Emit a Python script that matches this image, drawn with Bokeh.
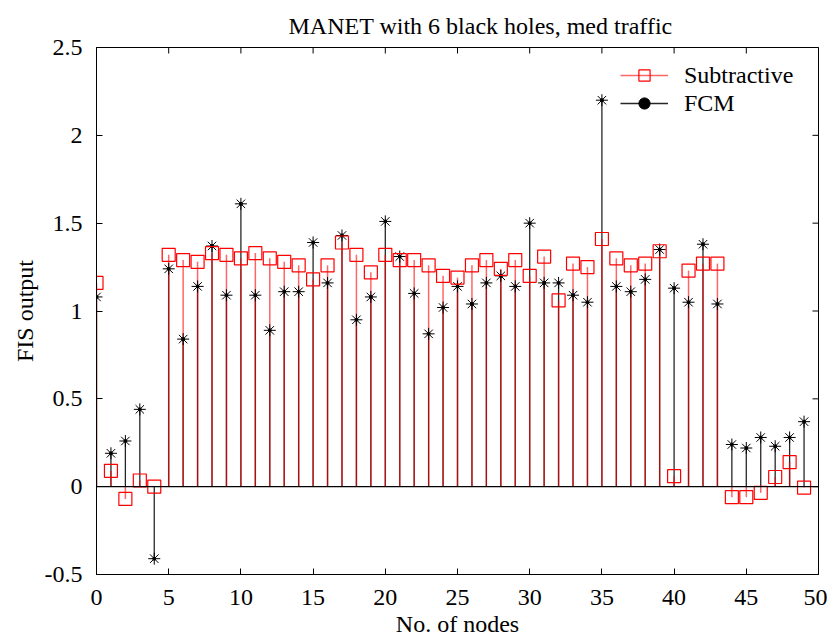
import math
from bokeh.plotting import figure
from bokeh.models import (Range1d, FixedTicker, Span, Legend,
                          LegendItem, ColumnDataSource)
from bokeh.embed import file_html
from bokeh.resources import INLINE

# ---- data ----
nodes = list(range(50))
subtractive = [1.16, 0.09, -0.07, 0.035, 0.0, 1.32, 1.29, 1.28, 1.33, 1.32,
               1.30, 1.33, 1.30, 1.28, 1.26, 1.18, 1.26, 1.39, 1.32, 1.22,
               1.32, 1.29, 1.29, 1.26, 1.20, 1.19, 1.26, 1.29, 1.24, 1.29,
               1.20, 1.31, 1.06, 1.27, 1.25, 1.41, 1.30, 1.26, 1.27, 1.34,
               0.06, 1.23, 1.27, 1.27, -0.06, -0.06, -0.035, 0.055, 0.14, -0.005]
fcm = [1.08, 0.19, 0.26, 0.44, -0.41, 1.24, 0.84, 1.14, 1.37, 1.09,
       1.61, 1.09, 0.89, 1.11, 1.11, 1.39, 1.16, 1.43, 0.95, 1.08,
       1.51, 1.31, 1.10, 0.87, 1.02, 1.14, 1.04, 1.16, 1.20, 1.14,
       1.50, 1.16, 1.16, 1.09, 1.05, 2.20, 1.14, 1.11, 1.18, 1.35,
       1.13, 1.05, 1.38, 1.04, 0.24, 0.22, 0.28, 0.23, 0.28, 0.37]
series_names = ["Subtractive", "FCM"]
x_ticks = [0, 5, 10, 15, 20, 25, 30, 35, 40, 45, 50]
x_tick_labels = ["0", "5", "10", "15", "20", "25", "30", "35", "40", "45", "50"]
y_ticks = [-0.5, 0, 0.5, 1, 1.5, 2, 2.5]
y_tick_labels = ["-0.5", "0", "0.5", "1", "1.5", "2", "2.5"]
x_limits = [0, 50]
y_limits = [-0.5, 2.5]
title_text = "MANET with 6 black holes, med traffic"
x_label = "No. of nodes"
y_label = "FIS output"

FONT = "Liberation Serif"
FS = "24px"

src = ColumnDataSource(dict(x=nodes, sub=subtractive, fcm=fcm))

p = figure(frame_width=722, frame_height=527,
           x_range=Range1d(*x_limits), y_range=Range1d(*y_limits),
           output_backend="svg", toolbar_location=None, title=title_text,
           min_border_left=96, min_border_right=9, min_border_top=47,
           min_border_bottom=20)
p.background_fill_color = "white"
p.border_fill_color = "white"
p.outline_line_color = "black"
p.outline_line_width = 1
p.xgrid.grid_line_color = None
p.ygrid.grid_line_color = None

p.title.text_font = FONT
p.title.text_font_size = FS
p.title.text_font_style = "normal"
p.title.align = "left"
p.title.offset = 192
p.title.standoff = 17
p.title.text_color = "black"


def style_axis(ax, ticks, labels):
    ax.ticker = FixedTicker(ticks=ticks)
    ax.major_label_overrides = {t: l for t, l in zip(ticks, labels)}
    ax.major_tick_in = 6
    ax.major_tick_out = 0
    ax.minor_tick_line_color = None
    ax.axis_line_color = "black"
    ax.major_tick_line_color = "black"
    ax.major_label_text_font = FONT
    ax.major_label_text_font_size = FS
    ax.major_label_text_color = "black"
    ax.axis_label_text_font = FONT
    ax.axis_label_text_font_style = "normal"
    ax.axis_label_text_font_size = FS
    ax.axis_label_text_color = "black"


style_axis(p.xaxis[0], x_ticks, x_tick_labels)
style_axis(p.yaxis[0], y_ticks, y_tick_labels)
p.xaxis[0].axis_label = x_label
p.yaxis[0].axis_label = y_label
p.xaxis[0].major_label_standoff = 15
p.xaxis[0].axis_label_standoff = 3
p.yaxis[0].major_label_standoff = 14
p.yaxis[0].axis_label_standoff = 4

# inward ticks on the top and right edges of the box (clipped to the frame)
p.scatter(x=x_ticks, y=[y_limits[1]] * len(x_ticks), marker="dash",
          angle=math.pi / 2, size=12, line_color="black", line_width=1)
p.scatter(x=[x_limits[1]] * len(y_ticks), y=y_ticks, marker="dash",
          size=12, line_color="black", line_width=1)

# baseline
p.add_layout(Span(location=0, dimension="width", line_color="black", line_width=1.2))

# stems
r_fcm_stem = p.segment(x0="x", y0=0, x1="x", y1="fcm", source=src,
                       line_color="black", line_width=1.3, line_alpha=0.85)
r_sub_stem = p.segment(x0="x", y0=0, x1="x", y1="sub", source=src,
                       line_color="red", line_width=1.5, line_alpha=0.6)

# markers
r_fcm_mark = p.scatter(x="x", y="fcm", source=src, marker="asterisk", size=12,
                       line_color="black", line_width=1)
r_fcm_dot = p.scatter(x="x", y="fcm", source=src, marker="circle", size=3,
                      line_color="black", fill_color="black")
r_sub_mark = p.scatter(x="x", y="sub", source=src, marker="square", size=13,
                       line_color="red", line_width=1.2, fill_color=None)

legend = Legend(items=[
    LegendItem(label=series_names[0], renderers=[r_sub_stem, r_sub_mark]),
    LegendItem(label=series_names[1], renderers=[r_fcm_stem, r_fcm_mark, r_fcm_dot]),
], location=(524, 457), border_line_color=None, background_fill_alpha=0,
    label_text_font=FONT, label_text_font_size=FS, label_text_color="black",
    glyph_width=48, glyph_height=28, label_height=28, spacing=0, padding=10,
    label_standoff=16, margin=0)
p.add_layout(legend)

open("out.html", "w").write(file_html(p, INLINE))
